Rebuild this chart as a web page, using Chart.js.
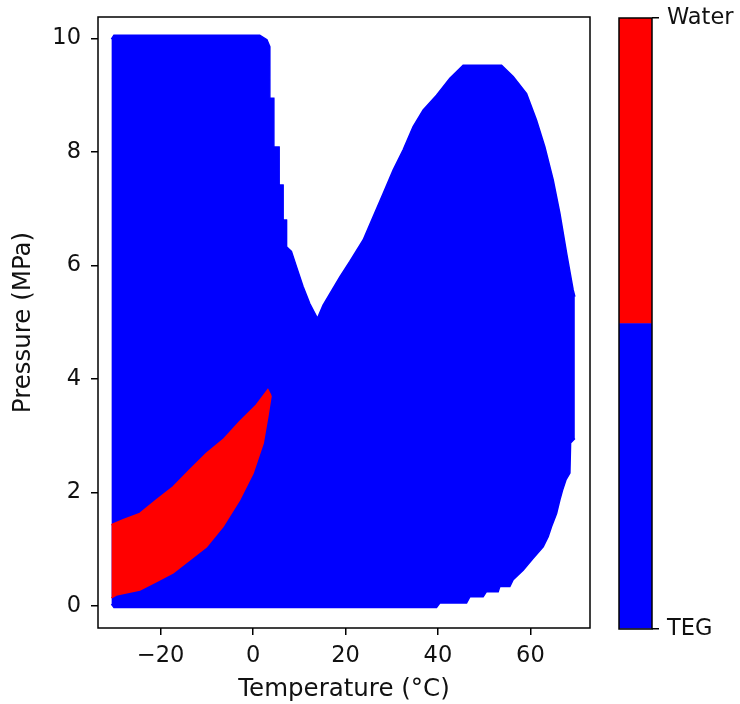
<!DOCTYPE html>
<html>
<head>
<meta charset="utf-8">
<script src="https://cdn.jsdelivr.net/npm/chart.js@4.4.1/dist/chart.umd.min.js"></script>
<style>
  html, body { margin: 0; padding: 0; background: #fff; }
  #wrap { position: relative; width: 740px; height: 704px; overflow: hidden; }
  #main { position: absolute; left: 0; top: 0; }
  #cbar { position: absolute; left: 605px; top: 0; }
</style>
</head>
<body>
<div id="wrap">
  <canvas id="main" width="610" height="704"></canvas>
  <canvas id="cbar" width="135" height="704"></canvas>
</div>
<script>
// ---- Data ----
const tempTicks = [-20, 0, 20, 40, 60];
const pressureTicks = [0, 2, 4, 6, 8, 10];

// TEG region (blue) envelope: upper and lower pressure boundary vs temperature
const tegUpperT = [-30.65, -30.1, 1.45, 3.0, 3.61, 3.63, 4.48, 4.50, 5.63, 5.65, 6.49, 6.51, 7.23, 7.25, 8.3, 9.39, 10.82, 12.27, 13.93, 15.15, 18.77, 20.93, 23.81, 25.97, 28.14, 30.30, 32.47, 34.63, 36.80, 39.69, 42.58, 45.45, 53.77, 56.28, 59.18, 61.34, 63.14, 64.94, 66.39, 67.84, 69.26, 69.63];
const tegUpperP = [9.99, 10.06, 10.06, 9.98, 9.86, 8.95, 8.95, 8.09, 8.09, 7.42, 7.42, 6.80, 6.80, 6.33, 6.25, 5.98, 5.63, 5.33, 5.07, 5.30, 5.80, 6.07, 6.45, 6.86, 7.27, 7.68, 8.04, 8.45, 8.74, 9.00, 9.30, 9.53, 9.53, 9.33, 9.03, 8.56, 8.09, 7.51, 6.92, 6.22, 5.57, 5.45];
const tegLowerT = [-30.65, -30.1, 39.69, 40.41, 46.19, 46.9, 49.78, 50.5, 53.03, 53.4, 55.56, 56.28, 58.44, 60.61, 62.77, 63.85, 64.59, 65.67, 66.39, 66.97, 67.69, 68.55, 68.70, 69.63];
const tegLowerP = [0.03, -0.03, -0.03, 0.05, 0.05, 0.16, 0.16, 0.25, 0.25, 0.34, 0.34, 0.46, 0.63, 0.84, 1.04, 1.22, 1.40, 1.63, 1.87, 2.04, 2.22, 2.34, 2.87, 2.95];

// Water region (red) envelope
const waterUpperT = [-30.65, -28.1, -24.5, -20.9, -17.3, -13.7, -10.1, -6.5, -2.9, 0.7, 3.2, 3.9];
const waterUpperP = [1.43, 1.52, 1.63, 1.87, 2.10, 2.40, 2.69, 2.93, 3.25, 3.54, 3.81, 3.70];
const waterLowerT = [-30.65, -29.6, -24.5, -20.9, -17.3, -13.7, -10.1, -6.5, -2.9, 0, 2.2, 3.2, 3.9];
const waterLowerP = [0.14, 0.19, 0.28, 0.43, 0.58, 0.81, 1.04, 1.40, 1.87, 2.34, 2.87, 3.34, 3.70];

// Colour bar categories (bottom to top)
const phaseLabels = ['TEG', 'Water'];
const phaseColors = ['#0000ff', '#ff0000'];

// ---- helpers ----
const zip = (xs, ys) => xs.map((x, i) => ({ x: x, y: ys[i] }));
const minus = v => String(v).replace('-', '\u2212');

Chart.defaults.font.family = "'DejaVu Sans', 'Liberation Sans', sans-serif";
Chart.defaults.font.size = 22.5;
Chart.defaults.color = '#111';
const titleFont = { size: 24.5 };

const framePlugin = {
  id: 'frame',
  afterDraw(chart) {
    const a = chart.chartArea, ctx = chart.ctx;
    ctx.save();
    ctx.strokeStyle = '#000';
    ctx.lineWidth = 1.5;
    ctx.strokeRect(a.left, a.top, a.right - a.left, a.bottom - a.top);
    ctx.restore();
  }
};

const noPad = s => { s.paddingTop = 0; s.paddingBottom = 0; s.paddingLeft = 0; s.paddingRight = 0; };

const region = (xs, ys, color, fill) => ({
  data: zip(xs, ys),
  borderColor: color,
  backgroundColor: color,
  borderWidth: 1.5,
  pointRadius: 0,
  tension: 0,
  fill: fill
});

// Chart.js paints dataset 0 last (on top), so the Water region comes first.
new Chart(document.getElementById('main'), {
  type: 'line',
  data: {
    datasets: [
      region(waterLowerT, waterLowerP, phaseColors[1], false),
      region(waterUpperT, waterUpperP, phaseColors[1], '-1'),
      region(tegLowerT, tegLowerP, phaseColors[0], false),
      region(tegUpperT, tegUpperP, phaseColors[0], '-1')
    ]
  },
  options: {
    responsive: false,
    animation: false,
    layout: { padding: { top: 17, right: 20, left: 0, bottom: 0 } },
    plugins: { legend: { display: false }, tooltip: { enabled: false } },
    scales: {
      x: {
        type: 'linear',
        min: -33.55, max: 72.9,
        afterFit: s => { s.height = 76; noPad(s); },
        afterBuildTicks: s => { s.ticks = tempTicks.map(v => ({ value: v })); },
        ticks: { padding: 8, maxRotation: 0, callback: v => minus(v) },
        grid: { drawOnChartArea: false, drawTicks: true, tickLength: 7, color: '#000', lineWidth: 1.5 },
        border: { display: false },
        title: { display: true, text: 'Temperature (°C)', font: titleFont, padding: { top: 0, bottom: 0 } }
      },
      y: {
        type: 'linear',
        min: -0.39, max: 10.38,
        afterFit: s => { s.width = 98; noPad(s); },
        afterBuildTicks: s => { s.ticks = pressureTicks.map(v => ({ value: v })); },
        ticks: { padding: 10, callback: v => minus(v) },
        grid: { drawOnChartArea: false, drawTicks: true, tickLength: 7, color: '#000', lineWidth: 1.5 },
        border: { display: false },
        title: { display: true, text: 'Pressure (MPa)', font: titleFont, padding: { top: 9, bottom: 0 } }
      }
    }
  },
  plugins: [framePlugin]
});

// ---- colour bar ----
const n = phaseLabels.length;
new Chart(document.getElementById('cbar'), {
  type: 'bar',
  data: {
    labels: [''],
    datasets: phaseLabels.map((lab, i) => ({
      label: lab,
      data: [[i / n, (i + 1) / n]],
      backgroundColor: phaseColors[i],
      borderWidth: 0,
      barPercentage: 1,
      categoryPercentage: 1,
      grouped: false
    }))
  },
  options: {
    responsive: false,
    animation: false,
    layout: { padding: { top: 18, bottom: 75, left: 14, right: 0 } },
    plugins: { legend: { display: false }, tooltip: { enabled: false } },
    scales: {
      x: { display: false },
      y: {
        position: 'right',
        min: 0, max: 1,
        afterFit: s => { s.width = 88; noPad(s); },
        afterBuildTicks: s => { s.ticks = [0, 1].map(v => ({ value: v })); },
        ticks: { padding: 8, callback: (v) => phaseLabels[v === 0 ? 0 : n - 1] },
        grid: { drawOnChartArea: false, drawTicks: true, tickLength: 7, color: '#000', lineWidth: 1.5 },
        border: { display: false }
      }
    }
  },
  plugins: [framePlugin]
});
</script>
</body>
</html>
